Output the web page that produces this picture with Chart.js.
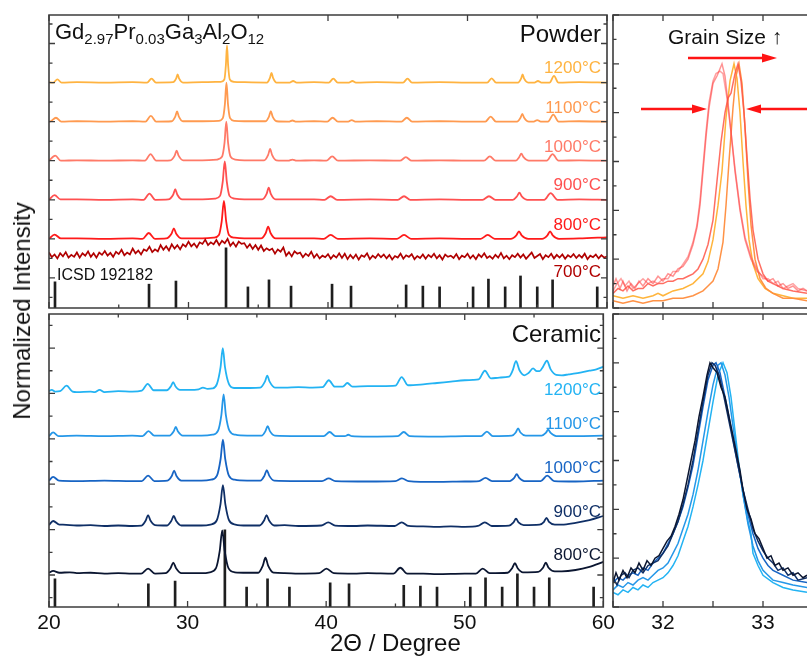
<!DOCTYPE html>
<html lang="en">
<head>
<meta charset="UTF-8">
<title>GPGAG powder and ceramic XRD</title>
<script src="https://cdn.jsdelivr.net/npm/chart.js"></script>
<style>
    body {
        margin: 0;
        width: 807px;
        height: 658px;
        overflow: hidden;
        position: relative;
        background: #fff;
        font-family: "Liberation Sans", Arial, Helvetica, sans-serif;
        color: #111;
    }
    canvas { position: absolute; }
    .lbl {
        position: absolute;
        white-space: nowrap;
        line-height: 1;
        z-index: 2;
    }
    .right { text-align: right; }
    .temp { font-size: 17px; }
    .formula sub {
        font-size: 15px;
        vertical-align: -5px;
        line-height: 0;
    }
</style>
</head>
<body>
    <div class="lbl formula" style="left:55px; top:21px; font-size:22px;">Gd<sub>2.97</sub>Pr<sub>0.03</sub>Ga<sub>3</sub>Al<sub>2</sub>O<sub>12</sub></div>
    <div class="lbl right" style="right:206px; top:21.5px; font-size:24px;">Powder</div>
    <div class="lbl right" style="right:206px; top:321.5px; font-size:24px;">Ceramic</div>
    <div class="lbl" style="left:57px; top:266.5px; font-size:16px;">ICSD 192182</div>
    <div class="lbl" style="left:668px; top:25.5px; font-size:21px;">Grain Size ↑</div>
    <div class="lbl" style="left:330px; top:631px; font-size:24px;">2Θ / Degree</div>
    <div class="lbl" style="left:22px; top:311px; font-size:24px; transform:translate(-50%,-50%) rotate(-90deg);">Normalized Intensity</div>
    <div id="labels"></div>

    <script>
        // temperatures, low to high
        const tempLabels = ['800°C', '900°C', '1000°C', '1100°C', '1200°C'];
        const powderColors = ['#ff1a1a', '#ff5050', '#ff7a68', '#ff9a50', '#ffb340'];
        const ceramicColors = ['#0b1631', '#0f2f66', '#1764c4', '#2597e8', '#23b3f3'];
        const color700 = '#b00000';

        // baselines of the stacked patterns (left panels, axis units)
        const powderOffsets = [2, 3, 4, 5, 6];
        const offset700 = 1.5;
        const ceramicOffsets = [1.03, 2.08, 3.07, 4.06, 5.03];

        // ICSD 192182 reflections and stick heights in each panel
        const icsdTheta = [20.43, 27.17, 29.1, 32.69, 34.26, 35.77, 37.35, 40.29, 41.65, 45.6, 46.8, 48.0, 50.4, 51.5, 52.7, 53.8, 55.0, 56.1, 59.3];
        const icsdPowder = [0.67, 0.61, 0.69, 1.54, 0.54, 0.72, 0.56, 0.61, 0.56, 0.59, 0.56, 0.54, 0.54, 0.74, 0.54, 0.82, 0.54, 0.72, 0.54];
        const icsdCeramic = [0.62, 0.51, 0.57, 1.70, 0.44, 0.62, 0.44, 0.53, 0.51, 0.48, 0.46, 0.44, 0.44, 0.64, 0.44, 0.73, 0.44, 0.64, 0.44];

        // powder patterns [2θ, intensity above baseline]
        const powder800 = [[20,0],[20.4,0.11],[20.85,0.01],[22,0.01],[24,0],[26,0.01],[26.7,0],[27.15,0.15],[27.6,0],
            [28.4,0.01],[28.78,0.13],[28.95,0.27],[29.12,0.13],[29.5,0.01],
            [31,0.01],[31.8,0.03],[32.18,0.1],[32.38,0.45],[32.54,0.97],[32.7,0.45],[32.9,0.1],[33.3,0.03],[34,0.01],
            [35.2,0.01],[35.54,0.15],[35.71,0.31],[35.88,0.15],[36.25,0.01],
            [39,0.01],[39.7,0],[40.19,0.1],[40.7,0],[43,0.01],[44.95,0],[45.45,0.1],[45.95,0],[48,0.01],[50,0],
            [50.95,0],[51.45,0.1],[51.95,0],[53.1,0],[53.5,0.09],[53.69,0.19],[53.88,0.09],[54.35,0],
            [55.35,0],[55.73,0.09],[55.92,0.19],[56.11,0.09],[56.55,0],[58,0.01],[60,0.04]];
        const powder900 = [[20,0],[20.4,0.12],[20.82,0.01],[22,0.01],[24,0],[26,0.01],[26.78,0],[27.2,0.16],[27.62,0],
            [28.55,0.01],[28.9,0.13],[29.05,0.27],[29.2,0.13],[29.55,0.01],
            [31,0.01],[31.9,0.03],[32.26,0.1],[32.45,0.45],[32.6,0.98],[32.75,0.45],[32.94,0.1],[33.3,0.03],[34,0.01],
            [35.28,0.01],[35.6,0.15],[35.75,0.31],[35.9,0.15],[36.25,0.01],
            [39,0.01],[39.75,0],[40.19,0.09],[40.65,0],[43,0.01],[45.0,0],[45.45,0.09],[45.9,0],[48,0.01],[50,0],
            [51.08,0],[51.54,0.09],[52.0,0],[53.25,0],[53.55,0.09],[53.72,0.18],[53.89,0.09],[54.3,0],
            [55.5,0],[55.96,0.17],[56.45,0],[58,0.01],[60,0]];
        const powder1000 = [[20,0],[20.45,0.13],[20.85,0],[22,0.01],[24,0],[26,0.01],[26.88,0],[27.28,0.17],[27.68,0],
            [28.7,0.01],[29.01,0.13],[29.15,0.26],[29.29,0.13],[29.62,0.01],
            [31,0.01],[32.05,0.03],[32.4,0.1],[32.58,0.45],[32.71,1.0],[32.84,0.45],[33.02,0.1],[33.35,0.03],[34,0.01],
            [35.42,0.01],[35.71,0.15],[35.85,0.3],[35.99,0.15],[36.3,0.01],[37.15,0],[37.45,0.03],[37.75,0],
            [39,0.01],[39.88,0],[40.3,0.11],[40.72,0],[43,0.01],[45.16,0],[45.58,0.09],[46.0,0],[48,0.01],[50,0],
            [51.18,0],[51.6,0.11],[52.02,0],[53.45,0],[53.7,0.09],[53.86,0.18],[54.02,0.09],[54.4,0],
            [55.68,0],[56.1,0.17],[56.52,0],[58,0.01],[60,0]];
        const powder1100 = [[20,0],[20.12,0.01],[20.5,0.1],[20.88,0],[22,0.01],[24,0],[26,0.01],[26.92,0],[27.3,0.15],[27.68,0],
            [28.8,0.01],[29.05,0.13],[29.18,0.26],[29.31,0.13],[29.6,0.01],
            [31,0.01],[32.15,0.02],[32.46,0.09],[32.61,0.45],[32.72,1.0],[32.83,0.45],[32.98,0.09],[33.3,0.02],[34,0.01],
            [35.5,0.01],[35.77,0.13],[35.9,0.27],[36.03,0.13],[36.32,0.01],[37.18,0],[37.45,0.03],[37.72,0],
            [39,0.01],[39.95,0],[40.33,0.1],[40.71,0],[41.45,0],[41.7,0.04],[41.95,0],
            [43.5,0.01],[45.27,0],[45.65,0.1],[46.03,0],[48,0.01],[50,0],[51.28,0],[51.66,0.13],[52.04,0],
            [53.55,0],[53.8,0.1],[53.93,0.2],[54.06,0.1],[54.4,0],[54.75,0],[55.0,0.04],[55.25,0],
            [55.77,0],[56.15,0.18],[56.53,0],[58,0.01],[60,0]];
        const powder1200 = [[20,0.01],[20.3,0],[20.6,0.08],[20.9,0],[22,0.01],[24,0],[26,0.01],[27.03,0],[27.35,0.1],[27.67,0],
            [28.9,0.01],[29.11,0.1],[29.22,0.21],[29.33,0.1],[29.6,0],
            [31,0.01],[32.3,0.02],[32.57,0.08],[32.68,0.45],[32.76,0.95],[32.84,0.45],[32.96,0.08],[33.25,0.02],[34,0.01],
            [35.62,0],[35.84,0.12],[35.95,0.25],[36.06,0.12],[36.32,0],[37.25,0],[37.5,0.04],[37.75,0],
            [39,0.01],[40.06,0],[40.38,0.1],[40.7,0],[41.5,0],[41.75,0.04],[42.0,0],
            [43.5,0.01],[45.38,0],[45.7,0.1],[46.02,0],[48,0.01],[50,0],[51.41,0],[51.73,0.11],[52.05,0],
            [53.62,0],[53.84,0.1],[53.95,0.21],[54.06,0.1],[54.35,0],[54.8,0],[55.05,0.04],[55.3,0],
            [55.88,0],[56.2,0.17],[56.52,0],[58,0.01],[60,0]];

        // amorphous 700°C scan, 20–60° in 0.2° steps
        const scan700Start = 20, scan700Step = 0.2;
        const powder700 = [
            0.15,0.03,0.10,0.00,0.13, 0.05,0.16,0.02,0.09,0.04, 0.15,0.02,0.13,0.07,0.18, 0.04,0.13,0.02,0.15,0.09,
            0.19,0.07,0.14,0.04,0.17, 0.11,0.22,0.08,0.15,0.10, 0.25,0.13,0.20,0.10,0.23, 0.19,0.30,0.16,0.23,0.18,
            0.34,0.22,0.31,0.20,0.36, 0.25,0.34,0.23,0.36,0.30, 0.43,0.31,0.38,0.28,0.41, 0.37,0.48,0.34,0.41,0.36,
            0.47,0.34,0.45,0.39,0.50, 0.32,0.41,0.30,0.43,0.37, 0.39,0.27,0.36,0.24,0.34, 0.22,0.33,0.19,0.26,0.21,
            0.25,0.12,0.23,0.17,0.28, 0.07,0.16,0.05,0.18,0.12, 0.15,0.03,0.12,0.06,0.17, 0.02,0.11,0.00,0.07,0.03,
            0.11,-0.01,0.08,0.02,0.13, 0.01,0.12,-0.02,0.09,0.00, 0.10,-0.03,0.08,0.04,0.13, -0.02,0.07,0.01,0.11,0.03,
            0.10,0.00,0.09,-0.03,0.06, 0.02,0.12,-0.01,0.08,0.04, 0.11,-0.02,0.06,0.01,0.10, -0.01,0.09,0.03,0.12,0.00,
            0.08,-0.03,0.10,0.04,0.07, 0.01,0.11,-0.02,0.07,0.03, 0.12,0.00,0.08,-0.02,0.10, 0.03,0.13,0.01,0.06,-0.01,
            0.09,0.02,0.14,0.00,0.07, -0.02,0.08,0.03,0.12,0.02, 0.10,-0.01,0.07,0.15,0.01, 0.06,0.11,-0.02,0.08,0.03,
            0.12,0.00,0.09,0.02,0.10, -0.01,0.08,0.03,0.11,0.01, 0.09,0.02,0.12,-0.02,0.07, 0.03,0.10,0.00,0.08,0.02,
            0.05];

        // ceramic patterns [2θ, intensity above baseline]
        const ceramic800 = [[20,0.02],[20.3,0.06],[20.75,0.02],[21.5,0.03],[22,0.01],[23,0.02],[24,0],[25,0.01],[26,0],
            [26.65,0],[27.15,0.11],[27.65,0],[28.4,0.01],[28.77,0.12],[28.97,0.24],[29.17,0.12],[29.55,0.01],
            [31,0.01],[31.6,0.03],[32.05,0.12],[32.32,0.5],[32.5,0.95],[32.68,0.5],[32.95,0.12],[33.4,0.03],[34.3,0.02],
            [35.1,0.02],[35.42,0.17],[35.62,0.35],[35.82,0.17],[36.2,0.02],[37,0.01],[38,0],[39.5,0.01],[40.02,0.11],[40.55,0.01],
            [42,0],[43,0.01],[44.85,0],[45.35,0.13],[45.85,0],[47,0],[48,-0.01],[50,0],[50.8,0],[51.3,0.11],[51.8,0.01],
            [53.1,0.02],[53.42,0.12],[53.62,0.23],[53.82,0.12],[54.2,0.03],[55.3,0.04],[55.65,0.13],[55.85,0.24],[56.05,0.13],[56.5,0.05],
            [57,0.05],[58,0.08],[59,0.15],[60,0.26]];
        const ceramic900 = [[20,0.02],[20.3,0.11],[20.75,0.03],[21,0.03],[22,0.01],[23,0.02],[24,0],[25,0.01],[26,0],
            [26.68,0.01],[26.98,0.12],[27.15,0.24],[27.32,0.12],[27.65,0.02],[28.5,0.01],[28.82,0.11],[29.0,0.22],[29.18,0.11],[29.55,0.01],
            [31,0.01],[31.65,0.03],[32.1,0.12],[32.37,0.47],[32.55,0.9],[32.73,0.47],[33.0,0.12],[33.45,0.03],[34.3,0.01],
            [35.2,0.01],[35.52,0.12],[35.7,0.24],[35.88,0.12],[36.25,0.01],[37,0.02],[38,0],[39.65,0.01],[40.15,0.08],[40.65,0.01],
            [42,0],[43,0.01],[44.95,0],[45.45,0.08],[45.95,0],[47,-0.01],[48,-0.02],[49,-0.01],[50,-0.02],[50.95,0],[51.45,0.08],[51.95,0],
            [53.2,0.01],[53.52,0.08],[53.7,0.16],[53.88,0.08],[54.25,0.02],[55.4,0.03],[55.72,0.09],[55.9,0.18],[56.08,0.09],[56.5,0.03],
            [57,0.03],[58,0.07],[59,0.13],[60,0.22]];
        const ceramic1000 = [[20,0.01],[20.3,0.09],[20.72,0.01],[22,0],[24,0.01],[26,0],
            [26.7,0],[27.15,0.12],[27.6,0],[28.55,0.01],[28.86,0.11],[29.03,0.23],[29.2,0.11],[29.55,0.01],
            [31,0.01],[31.7,0.03],[32.12,0.12],[32.38,0.48],[32.55,0.91],[32.72,0.48],[32.98,0.12],[33.4,0.03],[34.3,0.01],
            [35.25,0.01],[35.55,0.12],[35.72,0.24],[35.89,0.12],[36.25,0.01],[38,0],[39.7,0],[40.18,0.06],[40.66,0],
            [43,-0.01],[45.0,0],[45.47,0.06],[45.94,0],[48,-0.02],[50,-0.01],[51.03,0],[51.5,0.07],[51.97,0],
            [53.25,0],[53.57,0.07],[53.75,0.15],[53.93,0.07],[54.3,0],[55.48,0],[55.95,0.12],[56.45,0],
            [58,-0.01],[60,0.01]];
        const ceramic1100 = [[20,0],[20.3,0.08],[20.7,0],[22,0.01],[24,0],[26,0.01],
            [26.75,0],[27.18,0.11],[27.6,0.01],[28.7,0.01],[28.99,0.1],[29.15,0.2],[29.31,0.1],[29.65,0.01],
            [31,0.01],[31.8,0.03],[32.2,0.12],[32.44,0.47],[32.6,0.92],[32.76,0.47],[33.02,0.12],[33.45,0.03],[34.3,0.01],
            [35.35,0.01],[35.62,0.11],[35.78,0.22],[35.94,0.11],[36.3,0.01],[38,0],[39.82,0],[40.25,0.09],[40.68,0],
            [41.35,0],[41.6,0.03],[41.85,0],[43,-0.01],[45.17,0],[45.6,0.09],[46.03,0],[48,-0.01],[50,0],[51.17,0],[51.6,0.1],[52.03,0],
            [53.4,0.01],[53.68,0.08],[53.85,0.17],[54.02,0.08],[54.4,0.01],[55.55,0.01],[55.85,0.07],[56.02,0.14],[56.2,0.07],[56.6,0],
            [58,0],[60,0.01]];
        const ceramic1200 = [[20,0.02],[20.2,0.05],[20.45,0.01],[20.8,0.02],[21.27,0.14],[21.7,0.01],[22,0],[23,0.01],
            [23.3,0],[23.65,0.05],[24.0,0],[25,0.02],[26,0.01],[26.7,0.03],[27.12,0.18],[27.55,0.04],
            [28.5,0.04],[28.8,0.13],[28.96,0.22],[29.12,0.13],[29.45,0.05],[30.5,0.05],[30.8,0.06],[31.11,0.1],[31.45,0.07],
            [31.8,0.08],[32.12,0.18],[32.38,0.55],[32.54,0.97],[32.7,0.55],[32.98,0.18],[33.35,0.09],[34.5,0.09],
            [35.25,0.1],[35.58,0.23],[35.75,0.36],[35.92,0.23],[36.3,0.1],[37,0.1],[38,0.11],[39,0.1],
            [39.75,0.11],[40.19,0.26],[40.62,0.12],[41.2,0.12],[41.53,0.2],[41.9,0.12],[43,0.13],[44,0.13],
            [45.0,0.14],[45.45,0.33],[45.9,0.15],[47,0.17],[48,0.2],[49,0.23],[50,0.26],[50.6,0.27],
            [51.0,0.28],[51.45,0.47],[51.9,0.3],[52.5,0.32],[53.2,0.34],[53.45,0.47],[53.7,0.68],[53.95,0.48],[54.3,0.37],
            [54.6,0.42],[54.93,0.52],[55.2,0.46],[55.4,0.46],[55.65,0.56],[55.93,0.69],[56.2,0.5],[56.6,0.38],
            [57,0.37],[57.5,0.39],[58,0.41],[58.5,0.44],[59,0.47],[59.5,0.5],[60,0.56]];

        // close-up of the main reflection, powder [2θ, normalized intensity]
        const peakPowder800 = [[31.5,0.09],[31.53,0.12],[31.57,0.08],[31.6,0.11],[31.64,0.07],[31.68,0.1],[31.72,0.08],[31.76,0.11],[31.8,0.09],[31.85,0.12],
            [31.9,0.1],[31.95,0.13],[32.0,0.11],[32.05,0.14],[32.1,0.13],[32.15,0.16],[32.2,0.17],[32.25,0.2],[32.3,0.26],[32.34,0.33],
            [32.37,0.42],[32.4,0.56],[32.43,0.7],[32.46,0.82],[32.5,0.92],[32.54,0.95],[32.59,1.0],[32.62,0.95],[32.65,0.84],[32.68,0.72],
            [32.72,0.56],[32.77,0.4],[32.82,0.28],[32.88,0.2],[32.94,0.15],[33.0,0.13],[33.05,0.11],[33.1,0.12],[33.15,0.09],[33.2,0.1],
            [33.25,0.08],[33.3,0.09],[33.35,0.07],[33.4,0.08],[33.44,0.07]];
        const peakPowder900 = [[31.5,0.07],[31.54,0.1],[31.58,0.12],[31.62,0.09],[31.66,0.11],[31.7,0.08],[31.75,0.1],[31.8,0.12],[31.85,0.1],[31.9,0.11],
            [31.95,0.1],[32.0,0.12],[32.05,0.12],[32.1,0.15],[32.15,0.15],[32.2,0.18],[32.25,0.21],[32.3,0.27],[32.34,0.34],[32.37,0.44],
            [32.4,0.58],[32.43,0.72],[32.46,0.84],[32.5,0.93],[32.53,0.96],[32.57,0.97],[32.6,0.96],[32.64,0.86],[32.68,0.72],[32.72,0.57],
            [32.77,0.41],[32.82,0.29],[32.88,0.21],[32.94,0.16],[33.0,0.12],[33.05,0.12],[33.1,0.1],[33.15,0.11],[33.2,0.08],[33.25,0.09],
            [33.3,0.1],[33.35,0.08],[33.44,0.07]];
        const peakPowder1000 = [[31.5,0.06],[31.55,0.08],[31.6,0.07],[31.65,0.09],[31.7,0.07],[31.75,0.08],[31.8,0.08],[31.85,0.1],[31.9,0.09],[31.95,0.1],
            [32.0,0.1],[32.05,0.11],[32.1,0.11],[32.15,0.12],[32.2,0.12],[32.25,0.13],[32.3,0.14],[32.35,0.16],[32.4,0.2],[32.45,0.26],
            [32.5,0.36],[32.54,0.52],[32.58,0.68],[32.62,0.8],[32.65,0.86],[32.68,0.88],[32.72,0.96],[32.75,1.0],[32.78,0.93],[32.81,0.8],
            [32.84,0.62],[32.87,0.45],[32.9,0.32],[32.95,0.2],[33.0,0.14],[33.05,0.11],[33.1,0.1],[33.2,0.08],[33.3,0.07],[33.44,0.06]];
        const peakPowder1100 = [[31.5,0.03],[31.6,0.02],[31.7,0.03],[31.8,0.02],[31.9,0.03],[32.0,0.03],[32.1,0.04],[32.2,0.04],[32.3,0.05],[32.4,0.07],
            [32.45,0.09],[32.5,0.11],[32.55,0.16],[32.6,0.27],[32.63,0.42],[32.66,0.6],[32.7,0.82],[32.73,0.95],[32.76,1.0],[32.79,0.92],
            [32.82,0.74],[32.85,0.52],[32.88,0.34],[32.92,0.2],[32.97,0.12],[33.03,0.08],[33.1,0.06],[33.2,0.04],[33.3,0.04],[33.44,0.03]];
        const peakPowder1200 = [[31.5,0.05],[31.6,0.04],[31.7,0.05],[31.8,0.04],[31.9,0.05],[31.95,0.06],[32.0,0.05],[32.1,0.07],[32.2,0.08],[32.3,0.1],
            [32.4,0.14],[32.45,0.19],[32.5,0.28],[32.55,0.42],[32.59,0.56],[32.63,0.78],[32.67,0.93],[32.71,1.0],[32.74,0.94],[32.77,0.8],
            [32.8,0.6],[32.83,0.42],[32.86,0.28],[32.9,0.18],[32.95,0.12],[33.02,0.08],[33.1,0.06],[33.2,0.05],[33.3,0.04],[33.44,0.04]];

        // close-up of the main reflection, ceramic
        const peakCeramic800 = [[31.5,0.1],[31.53,0.14],[31.56,0.11],[31.6,0.15],[31.64,0.12],[31.68,0.16],[31.72,0.14],[31.76,0.18],[31.8,0.15],[31.84,0.19],
            [31.88,0.17],[31.92,0.2],[31.96,0.21],[32.0,0.24],[32.04,0.27],[32.08,0.29],[32.12,0.33],[32.16,0.38],[32.2,0.44],[32.24,0.52],
            [32.28,0.6],[32.32,0.68],[32.36,0.78],[32.4,0.86],[32.44,0.95],[32.47,1.0],[32.5,0.98],[32.54,0.96],[32.58,0.9],[32.62,0.86],
            [32.66,0.78],[32.7,0.7],[32.74,0.62],[32.77,0.56],[32.8,0.48],[32.84,0.4],[32.88,0.36],[32.92,0.3],[32.96,0.28],[33.0,0.24],
            [33.04,0.2],[33.08,0.21],[33.12,0.17],[33.16,0.18],[33.2,0.15],[33.25,0.16],[33.3,0.13],[33.35,0.14],[33.4,0.12],[33.44,0.13]];
        const peakCeramic900 = [[31.5,0.12],[31.54,0.09],[31.58,0.13],[31.62,0.14],[31.66,0.12],[31.7,0.15],[31.75,0.16],[31.8,0.14],[31.85,0.17],[31.9,0.18],
            [31.95,0.19],[32.0,0.22],[32.05,0.25],[32.1,0.3],[32.15,0.35],[32.2,0.42],[32.25,0.5],[32.3,0.6],[32.35,0.72],[32.4,0.84],
            [32.45,0.95],[32.49,1.0],[32.52,0.99],[32.56,0.95],[32.6,0.88],[32.64,0.8],[32.68,0.72],[32.72,0.64],[32.76,0.56],[32.8,0.48],
            [32.85,0.4],[32.9,0.32],[32.95,0.27],[33.0,0.23],[33.05,0.2],[33.1,0.18],[33.15,0.15],[33.2,0.16],[33.25,0.13],[33.3,0.14],
            [33.35,0.11],[33.44,0.12]];
        const peakCeramic1000 = [[31.5,0.1],[31.55,0.12],[31.6,0.11],[31.65,0.13],[31.7,0.14],[31.75,0.13],[31.8,0.16],[31.85,0.15],[31.9,0.18],[31.95,0.2],
            [32.0,0.22],[32.05,0.26],[32.1,0.3],[32.15,0.35],[32.2,0.41],[32.25,0.49],[32.3,0.58],[32.35,0.7],[32.4,0.82],[32.45,0.93],
            [32.5,0.99],[32.53,1.0],[32.57,0.96],[32.61,0.88],[32.65,0.8],[32.7,0.69],[32.75,0.58],[32.8,0.48],[32.85,0.38],[32.9,0.3],
            [32.95,0.24],[33.0,0.2],[33.05,0.17],[33.1,0.15],[33.2,0.13],[33.3,0.11],[33.44,0.1]];
        const peakCeramic1100 = [[31.5,0.07],[31.55,0.09],[31.6,0.08],[31.65,0.1],[31.7,0.09],[31.75,0.11],[31.8,0.12],[31.85,0.11],[31.9,0.13],[31.95,0.15],
            [32.0,0.16],[32.05,0.18],[32.1,0.22],[32.15,0.26],[32.2,0.32],[32.25,0.38],[32.3,0.46],[32.35,0.56],[32.4,0.68],[32.45,0.8],
            [32.5,0.91],[32.55,0.99],[32.58,1.0],[32.62,0.95],[32.66,0.86],[32.7,0.74],[32.75,0.6],[32.8,0.46],[32.85,0.34],[32.9,0.25],
            [32.95,0.19],[33.0,0.15],[33.05,0.13],[33.1,0.11],[33.2,0.1],[33.3,0.09],[33.44,0.08]];
        const peakCeramic1200 = [[31.5,0.06],[31.55,0.05],[31.6,0.07],[31.65,0.06],[31.7,0.08],[31.75,0.07],[31.8,0.09],[31.85,0.08],[31.9,0.1],[31.95,0.11],
            [32.0,0.12],[32.05,0.14],[32.1,0.17],[32.15,0.21],[32.2,0.27],[32.25,0.33],[32.3,0.41],[32.35,0.5],[32.4,0.6],[32.45,0.72],
            [32.5,0.84],[32.55,0.95],[32.6,1.0],[32.64,0.96],[32.68,0.86],[32.72,0.72],[32.76,0.58],[32.8,0.46],[32.85,0.35],[32.88,0.3],
            [32.9,0.22],[32.95,0.17],[33.0,0.13],[33.1,0.1],[33.2,0.08],[33.3,0.07],[33.44,0.06]];

        // red arrows in the powder close-up: [from 2θ, to 2θ, height]
        const grainArrows = [[32.25, 33.14, 1.024], [31.78, 32.44, 0.815], [33.6, 32.83, 0.815]];

        const FONT = '"Liberation Sans", Arial, Helvetica, sans-serif';

        // inward tick marks and axis box
        const frame = {
            id: 'frame',
            afterDatasetsDraw(chart, args, o) {
                const { ctx, chartArea: a, scales: { x, y } } = chart;
                const marks = (scale, step, every, draw) => {
                    const k0 = Math.ceil(scale.min / step - 1e-6), k1 = Math.floor(scale.max / step + 1e-6);
                    for (let k = k0; k <= k1; k++) draw(scale.getPixelForValue(k * step), k % every === 0 ? 6 : 3.5);
                };
                ctx.save();
                ctx.strokeStyle = '#3c3c3c';
                ctx.lineWidth = 1.3;
                ctx.beginPath();
                marks(x, o.xStep, o.xEvery, (px, len) => {
                    ctx.moveTo(px, a.bottom); ctx.lineTo(px, a.bottom - len);
                    ctx.moveTo(px, a.top); ctx.lineTo(px, a.top + len);
                });
                marks(y, o.yStep, o.yEvery, (py, len) => {
                    ctx.moveTo(a.left, py); ctx.lineTo(a.left + len, py);
                    if (o.closed) { ctx.moveTo(a.right, py); ctx.lineTo(a.right - len, py); }
                });
                ctx.stroke();
                ctx.lineWidth = 1.6;
                ctx.beginPath();
                if (o.closed) {
                    ctx.rect(a.left, a.top, a.right - a.left, a.bottom - a.top);
                } else {
                    ctx.moveTo(a.right + 10, a.top); ctx.lineTo(a.left, a.top);
                    ctx.lineTo(a.left, a.bottom); ctx.lineTo(a.right + 10, a.bottom);
                }
                ctx.stroke();
                ctx.restore();
            }
        };

        const arrows = {
            id: 'arrows',
            afterDatasetsDraw(chart, args, o) {
                if (!o.list) return;
                const { ctx, scales: { x, y } } = chart;
                ctx.save();
                ctx.strokeStyle = ctx.fillStyle = '#ff1414';
                ctx.lineWidth = 2.6;
                for (const [x0, x1, v] of o.list) {
                    const p0 = x.getPixelForValue(x0), p1 = x.getPixelForValue(x1), py = y.getPixelForValue(v);
                    const d = Math.sign(p1 - p0);
                    ctx.beginPath(); ctx.moveTo(p0, py); ctx.lineTo(p1 - d * 12, py); ctx.stroke();
                    ctx.beginPath(); ctx.moveTo(p1, py); ctx.lineTo(p1 - d * 15, py - 4.5); ctx.lineTo(p1 - d * 15, py + 4.5);
                    ctx.closePath(); ctx.fill();
                }
                ctx.restore();
            }
        };

        function lineSet(points, offset, color, width, smooth) {
            return {
                type: 'line',
                data: points.map(([x, v]) => ({ x, y: v + offset })),
                borderColor: color,
                borderWidth: width,
                pointRadius: 0,
                fill: false,
                cubicInterpolationMode: smooth ? 'monotone' : 'default',
                order: 0
            };
        }

        function stickSet(heights, base) {
            return {
                type: 'bar',
                data: icsdTheta.map((t, i) => ({ x: t, y: [base, base + heights[i]] })),
                backgroundColor: '#1e1e1e',
                barThickness: 2,
                grouped: false,
                order: 10
            };
        }

        // one chart per panel; rect is the plot area in page pixels
        function panel(rect, xr, yr, datasets, opts) {
            const PL = 16, PR = 12, PT = 8, PB = 4;
            const axisH = opts.xTicks ? 34 : 0;
            const cv = document.createElement('canvas');
            cv.width = rect.w + PL + PR;
            cv.height = rect.h + PT + PB + axisH;
            cv.style.left = (rect.x - PL) + 'px';
            cv.style.top = (rect.y - PT) + 'px';
            document.body.appendChild(cv);
            return new Chart(cv, {
                type: 'line',
                data: { datasets },
                options: {
                    responsive: false,
                    animation: false,
                    devicePixelRatio: 1,
                    events: [],
                    layout: { padding: { left: PL, right: PR, top: PT, bottom: PB } },
                    plugins: {
                        legend: { display: false },
                        tooltip: { enabled: false },
                        frame: opts.frame,
                        arrows: { list: opts.arrows || null }
                    },
                    scales: {
                        x: {
                            type: 'linear', min: xr[0], max: xr[1], offset: false,
                            display: !!opts.xTicks,
                            grid: { display: false, drawTicks: false },
                            border: { display: false },
                            ticks: { font: { family: FONT, size: 21 }, color: '#111', padding: 4, maxRotation: 0 },
                            afterBuildTicks: (s) => { if (opts.xTicks) s.ticks = opts.xTicks.map(v => ({ value: v })); },
                            afterFit: (s) => { s.height = axisH; }
                        },
                        y: { type: 'linear', min: yr[0], max: yr[1], display: false }
                    }
                },
                plugins: [frame, arrows]
            });
        }

        const powderSets = [powder800, powder900, powder1000, powder1100, powder1200];
        const ceramicSets = [ceramic800, ceramic900, ceramic1000, ceramic1100, ceramic1200];
        const powderPeaks = [peakPowder800, peakPowder900, peakPowder1000, peakPowder1100, peakPowder1200];
        const ceramicPeaks = [peakCeramic800, peakCeramic900, peakCeramic1000, peakCeramic1100, peakCeramic1200];
        const powderPeakColors = ['rgba(255,60,60,0.55)', 'rgba(255,100,100,0.6)', 'rgba(255,85,70,0.85)', 'rgba(255,140,60,0.95)', 'rgba(255,176,48,0.95)'];

        const yPowder = [0.23, 7.73], yCeramic = [0.295, 6.75], yPeak = [0, 1.2];

        panel({ x: 49, y: 15, w: 558, h: 293 }, [20, 60], yPowder, [
            stickSet(icsdPowder, yPowder[0]),
            lineSet(powder700.map((v, i) => [scan700Start + i * scan700Step, v]), offset700, color700, 1.7, false),
            ...powderSets.map((s, i) => lineSet(s, powderOffsets[i], powderColors[i], 1.8, true))
        ], { frame: { xStep: 5, xEvery: 2, yStep: 0.5, yEvery: 2, closed: true } });

        panel({ x: 49, y: 314, w: 558, h: 293 }, [20, 60], yCeramic, [
            stickSet(icsdCeramic, yCeramic[0]),
            ...ceramicSets.map((s, i) => lineSet(s, ceramicOffsets[i], ceramicColors[i], 1.8, true))
        ], { xTicks: [20, 30, 40, 50, 60], frame: { xStep: 5, xEvery: 2, yStep: 0.5, yEvery: 2, closed: true } });

        panel({ x: 613, y: 15, w: 194, h: 293 }, [31.5, 33.44], yPeak,
            powderPeaks.map((s, i) => lineSet(s, 0, powderPeakColors[i], 1.5, false)),
            { frame: { xStep: 0.5, xEvery: 1, yStep: 0.1, yEvery: 2, closed: false }, arrows: grainArrows });

        panel({ x: 613, y: 314, w: 194, h: 293 }, [31.5, 33.44], yPeak,
            ceramicPeaks.map((s, i) => lineSet(s, 0, ceramicColors[i], 1.5, false)),
            { xTicks: [32, 33], frame: { xStep: 0.5, xEvery: 1, yStep: 0.1, yEvery: 2, closed: false } });

        // temperature labels, coloured like their curves
        const powderLabelTops = [215.5, 175.5, 137.5, 98.5, 58.5];
        const ceramicLabelTops = [545.5, 502.5, 458.5, 414.5, 380.5];
        const host = document.getElementById('labels');
        const addLabel = (text, top, color) => {
            const d = document.createElement('div');
            d.className = 'lbl right temp';
            d.style.cssText = `right:206px; top:${top}px; color:${color};`;
            d.textContent = text;
            host.appendChild(d);
        };
        tempLabels.forEach((t, i) => addLabel(t, powderLabelTops[i], powderColors[i]));
        addLabel('700°C', 262.5, color700);
        tempLabels.forEach((t, i) => addLabel(t, ceramicLabelTops[i], ceramicColors[i]));
    </script>
</body>
</html>
